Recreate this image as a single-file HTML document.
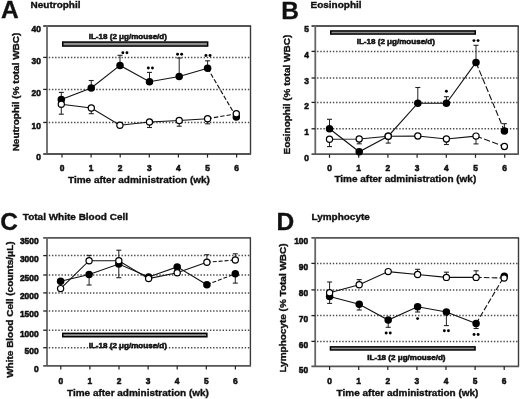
<!DOCTYPE html>
<html><head><meta charset="utf-8"><style>
html,body{margin:0;padding:0;background:#fff;}
body{width:520px;height:399px;overflow:hidden;}
svg{display:block;filter:blur(0.3px);}
text{font-family:"Liberation Sans", sans-serif;font-weight:bold;fill:#111;}
.t8{font-size:8.4px;stroke:#111;stroke-width:0.55px;}
.t8i{font-size:8.05px;stroke:#111;stroke-width:0.55px;}
.t10{font-size:10px;stroke:#111;stroke-width:0.38px;}
.t24{font-size:24.5px;stroke:#111;stroke-width:0.3px;}
</style></head><body>
<svg width="520" height="399" viewBox="0 0 520 399">
<rect width="520" height="399" fill="#fff"/>
<line x1="48.8" y1="57.4" x2="250.5" y2="57.4" stroke="#4a4a4a" stroke-width="1.5" stroke-dasharray="1.4 1.76"/>
<line x1="48.8" y1="89.4" x2="250.5" y2="89.4" stroke="#4a4a4a" stroke-width="1.5" stroke-dasharray="1.4 1.76"/>
<line x1="48.8" y1="122.45" x2="250.5" y2="122.45" stroke="#4a4a4a" stroke-width="1.5" stroke-dasharray="1.4 1.76"/>
<line x1="43.2" y1="26" x2="251.1" y2="26" stroke="#555" stroke-width="1.8"/>
<line x1="250.5" y1="26" x2="250.5" y2="154" stroke="#3a3a3a" stroke-width="1.4"/>
<line x1="47" y1="25.1" x2="47" y2="154" stroke="#666" stroke-width="1.8"/>
<line x1="43.2" y1="154" x2="251.1" y2="154" stroke="#555" stroke-width="1.8"/>
<text x="40.8" y="32.3" text-anchor="end" class="t8">40</text>
<line x1="43.2" y1="57.4" x2="47" y2="57.4" stroke="#222" stroke-width="1.3"/>
<text x="40.8" y="63.7" text-anchor="end" class="t8">30</text>
<line x1="43.2" y1="89.4" x2="47" y2="89.4" stroke="#222" stroke-width="1.3"/>
<text x="40.8" y="95.7" text-anchor="end" class="t8">20</text>
<line x1="43.2" y1="122.45" x2="47" y2="122.45" stroke="#222" stroke-width="1.3"/>
<text x="40.8" y="128.75" text-anchor="end" class="t8">10</text>
<text x="40.8" y="160.3" text-anchor="end" class="t8">0</text>
<line x1="62" y1="154" x2="62" y2="157.6" stroke="#222" stroke-width="1.2"/>
<text x="62" y="170.6" text-anchor="middle" class="t8">0</text>
<line x1="91.1" y1="154" x2="91.1" y2="157.6" stroke="#222" stroke-width="1.2"/>
<text x="91.1" y="170.6" text-anchor="middle" class="t8">1</text>
<line x1="120.2" y1="154" x2="120.2" y2="157.6" stroke="#222" stroke-width="1.2"/>
<text x="120.2" y="170.6" text-anchor="middle" class="t8">2</text>
<line x1="149.3" y1="154" x2="149.3" y2="157.6" stroke="#222" stroke-width="1.2"/>
<text x="149.3" y="170.6" text-anchor="middle" class="t8">3</text>
<line x1="178.4" y1="154" x2="178.4" y2="157.6" stroke="#222" stroke-width="1.2"/>
<text x="178.4" y="170.6" text-anchor="middle" class="t8">4</text>
<line x1="207.5" y1="154" x2="207.5" y2="157.6" stroke="#222" stroke-width="1.2"/>
<text x="207.5" y="170.6" text-anchor="middle" class="t8">5</text>
<line x1="236.6" y1="154" x2="236.6" y2="157.6" stroke="#222" stroke-width="1.2"/>
<text x="236.6" y="170.6" text-anchor="middle" class="t8">6</text>
<text transform="translate(68 182.6) scale(1 0.92)" class="t10">Time after administration (wk)</text>
<text transform="translate(18.8 92) rotate(-90) scale(1 0.92)" text-anchor="middle" class="t10">Neutrophil (% total WBC)</text>
<text x="1" y="18.2" class="t24">A</text>
<text transform="translate(30.6 7.6) scale(1 0.92)" class="t10">Neutrophil</text>
<rect x="62.75" y="42.05" width="144.9" height="4" fill="#8c8c8c" stroke="#000" stroke-width="1.5"/>
<text x="88.7" y="39.4" class="t8i">IL-18 (2 μg/mouse/d)</text>
<path d="M61.3 99.4 L91.25 88 L120 65.4 L149.5 81.7 L179.2 76.5 L207.6 68.3" fill="none" stroke="#111" stroke-width="1.1"/>
<line x1="207.6" y1="68.3" x2="236.3" y2="117" stroke="#111" stroke-width="1.1" stroke-dasharray="4.4 2"/>
<line x1="61.3" y1="99.4" x2="61.3" y2="92.4" stroke="#222" stroke-width="1"/>
<line x1="58.8" y1="92.4" x2="63.8" y2="92.4" stroke="#222" stroke-width="1.1"/>
<line x1="91.25" y1="88" x2="91.25" y2="80.5" stroke="#222" stroke-width="1"/>
<line x1="88.75" y1="80.5" x2="93.75" y2="80.5" stroke="#222" stroke-width="1.1"/>
<line x1="120" y1="65.4" x2="120" y2="55.3" stroke="#222" stroke-width="1"/>
<line x1="117.5" y1="55.3" x2="122.5" y2="55.3" stroke="#222" stroke-width="1.1"/>
<line x1="149.5" y1="81.7" x2="149.5" y2="72.4" stroke="#222" stroke-width="1"/>
<line x1="147" y1="72.4" x2="152" y2="72.4" stroke="#222" stroke-width="1.1"/>
<line x1="179.2" y1="76.5" x2="179.2" y2="58" stroke="#222" stroke-width="1"/>
<line x1="176.7" y1="58" x2="181.7" y2="58" stroke="#222" stroke-width="1.1"/>
<line x1="207.6" y1="68.3" x2="207.6" y2="60.8" stroke="#222" stroke-width="1"/>
<line x1="205.1" y1="60.8" x2="210.1" y2="60.8" stroke="#222" stroke-width="1.1"/>
<circle cx="61.3" cy="99.4" r="3.75" fill="#000"/>
<circle cx="91.25" cy="88" r="3.75" fill="#000"/>
<circle cx="120" cy="65.4" r="3.75" fill="#000"/>
<circle cx="149.5" cy="81.7" r="3.75" fill="#000"/>
<circle cx="179.2" cy="76.5" r="3.75" fill="#000"/>
<circle cx="207.6" cy="68.3" r="3.75" fill="#000"/>
<circle cx="236.3" cy="117" r="3.75" fill="#000"/>
<path d="M61.3 104.3 L91.3 108 L119.9 125.3 L149.5 122 L179.2 120.5 L207.6 118.7" fill="none" stroke="#111" stroke-width="1.1"/>
<line x1="207.6" y1="118.7" x2="236.3" y2="113.8" stroke="#111" stroke-width="1.1" stroke-dasharray="4.4 2"/>
<line x1="61.3" y1="104.3" x2="61.3" y2="114.2" stroke="#222" stroke-width="1"/>
<line x1="58.8" y1="114.2" x2="63.8" y2="114.2" stroke="#222" stroke-width="1.1"/>
<line x1="91.3" y1="108" x2="91.3" y2="113.7" stroke="#222" stroke-width="1"/>
<line x1="88.8" y1="113.7" x2="93.8" y2="113.7" stroke="#222" stroke-width="1.1"/>
<line x1="149.5" y1="122" x2="149.5" y2="127.5" stroke="#222" stroke-width="1"/>
<line x1="147" y1="127.5" x2="152" y2="127.5" stroke="#222" stroke-width="1.1"/>
<line x1="179.2" y1="120.5" x2="179.2" y2="126.2" stroke="#222" stroke-width="1"/>
<line x1="176.7" y1="126.2" x2="181.7" y2="126.2" stroke="#222" stroke-width="1.1"/>
<line x1="207.6" y1="118.7" x2="207.6" y2="123.8" stroke="#222" stroke-width="1"/>
<line x1="205.1" y1="123.8" x2="210.1" y2="123.8" stroke="#222" stroke-width="1.1"/>
<circle cx="61.3" cy="104.3" r="3.1" fill="#fff" stroke="#000" stroke-width="1.2"/>
<circle cx="91.3" cy="108" r="3.1" fill="#fff" stroke="#000" stroke-width="1.2"/>
<circle cx="119.9" cy="125.3" r="3.1" fill="#fff" stroke="#000" stroke-width="1.2"/>
<circle cx="149.5" cy="122" r="3.1" fill="#fff" stroke="#000" stroke-width="1.2"/>
<circle cx="179.2" cy="120.5" r="3.1" fill="#fff" stroke="#000" stroke-width="1.2"/>
<circle cx="207.6" cy="118.7" r="3.1" fill="#fff" stroke="#000" stroke-width="1.2"/>
<circle cx="236.3" cy="113.8" r="3.1" fill="#fff" stroke="#000" stroke-width="1.2"/>
<circle cx="122.85" cy="52.7" r="1.45" fill="#000"/>
<circle cx="126.95" cy="52.7" r="1.45" fill="#000"/>
<circle cx="148.35" cy="68" r="1.45" fill="#000"/>
<circle cx="152.45" cy="68" r="1.45" fill="#000"/>
<circle cx="177.55" cy="54.2" r="1.45" fill="#000"/>
<circle cx="181.65" cy="54.2" r="1.45" fill="#000"/>
<circle cx="205.95" cy="55.5" r="1.45" fill="#000"/>
<circle cx="210.05" cy="55.5" r="1.45" fill="#000"/>
<line x1="317.1" y1="51.4" x2="518.2" y2="51.4" stroke="#4a4a4a" stroke-width="1.5" stroke-dasharray="1.4 1.76"/>
<line x1="317.1" y1="78" x2="518.2" y2="78" stroke="#4a4a4a" stroke-width="1.5" stroke-dasharray="1.4 1.76"/>
<line x1="317.1" y1="102.4" x2="518.2" y2="102.4" stroke="#4a4a4a" stroke-width="1.5" stroke-dasharray="1.4 1.76"/>
<line x1="317.1" y1="128.8" x2="518.2" y2="128.8" stroke="#4a4a4a" stroke-width="1.5" stroke-dasharray="1.4 1.76"/>
<line x1="311.5" y1="26" x2="518.8" y2="26" stroke="#555" stroke-width="1.8"/>
<line x1="518.2" y1="26" x2="518.2" y2="154.2" stroke="#3a3a3a" stroke-width="1.4"/>
<line x1="315.3" y1="25.1" x2="315.3" y2="154.2" stroke="#666" stroke-width="1.8"/>
<line x1="311.5" y1="154.2" x2="518.8" y2="154.2" stroke="#555" stroke-width="1.8"/>
<text x="308.8" y="32.3" text-anchor="end" class="t8">5</text>
<line x1="311.5" y1="51.4" x2="315.3" y2="51.4" stroke="#222" stroke-width="1.3"/>
<text x="308.8" y="57.7" text-anchor="end" class="t8">4</text>
<line x1="311.5" y1="78" x2="315.3" y2="78" stroke="#222" stroke-width="1.3"/>
<text x="308.8" y="84.3" text-anchor="end" class="t8">3</text>
<line x1="311.5" y1="102.4" x2="315.3" y2="102.4" stroke="#222" stroke-width="1.3"/>
<text x="308.8" y="108.7" text-anchor="end" class="t8">2</text>
<line x1="311.5" y1="128.8" x2="315.3" y2="128.8" stroke="#222" stroke-width="1.3"/>
<text x="308.8" y="135.1" text-anchor="end" class="t8">1</text>
<text x="308.8" y="160.5" text-anchor="end" class="t8">0</text>
<line x1="329.5" y1="154.2" x2="329.5" y2="157.8" stroke="#222" stroke-width="1.2"/>
<text x="329.5" y="171.2" text-anchor="middle" class="t8">0</text>
<line x1="358.7" y1="154.2" x2="358.7" y2="157.8" stroke="#222" stroke-width="1.2"/>
<text x="358.7" y="171.2" text-anchor="middle" class="t8">1</text>
<line x1="387.9" y1="154.2" x2="387.9" y2="157.8" stroke="#222" stroke-width="1.2"/>
<text x="387.9" y="171.2" text-anchor="middle" class="t8">2</text>
<line x1="417.1" y1="154.2" x2="417.1" y2="157.8" stroke="#222" stroke-width="1.2"/>
<text x="417.1" y="171.2" text-anchor="middle" class="t8">3</text>
<line x1="446.3" y1="154.2" x2="446.3" y2="157.8" stroke="#222" stroke-width="1.2"/>
<text x="446.3" y="171.2" text-anchor="middle" class="t8">4</text>
<line x1="475.5" y1="154.2" x2="475.5" y2="157.8" stroke="#222" stroke-width="1.2"/>
<text x="475.5" y="171.2" text-anchor="middle" class="t8">5</text>
<line x1="504.7" y1="154.2" x2="504.7" y2="157.8" stroke="#222" stroke-width="1.2"/>
<text x="504.7" y="171.2" text-anchor="middle" class="t8">6</text>
<text transform="translate(334.4 182.3) scale(1 0.92)" class="t10">Time after administration (wk)</text>
<text transform="translate(289.8 94.6) rotate(-90) scale(1 0.92)" text-anchor="middle" class="t10">Eosinophil (% total WBC)</text>
<text x="281.2" y="18.5" class="t24">B</text>
<text transform="translate(310.5 7.7) scale(1 0.92)" class="t10">Eosinophil</text>
<rect x="330.75" y="30.95" width="144.5" height="3.1" fill="#8c8c8c" stroke="#000" stroke-width="1.5"/>
<text x="356.7" y="44.3" class="t8i">IL-18 (2 μg/mouse/d)</text>
<path d="M329.5 128.8 L359.2 151.8 L388.2 136.2 L417.8 103.2 L446.4 103.2 L476 62.4" fill="none" stroke="#111" stroke-width="1.1"/>
<line x1="476" y1="62.4" x2="504.4" y2="130.9" stroke="#111" stroke-width="1.1" stroke-dasharray="6.3 2.3"/>
<line x1="329.5" y1="128.8" x2="329.5" y2="119.3" stroke="#222" stroke-width="1"/>
<line x1="327" y1="119.3" x2="332" y2="119.3" stroke="#222" stroke-width="1.1"/>
<line x1="417.8" y1="103.2" x2="417.8" y2="87.5" stroke="#222" stroke-width="1"/>
<line x1="415.3" y1="87.5" x2="420.3" y2="87.5" stroke="#222" stroke-width="1.1"/>
<line x1="446.4" y1="103.2" x2="446.4" y2="96.7" stroke="#222" stroke-width="1"/>
<line x1="443.9" y1="96.7" x2="448.9" y2="96.7" stroke="#222" stroke-width="1.1"/>
<line x1="476" y1="62.4" x2="476" y2="45.3" stroke="#222" stroke-width="1"/>
<line x1="473.5" y1="45.3" x2="478.5" y2="45.3" stroke="#222" stroke-width="1.1"/>
<line x1="504.4" y1="130.9" x2="504.4" y2="123.7" stroke="#222" stroke-width="1"/>
<line x1="501.9" y1="123.7" x2="506.9" y2="123.7" stroke="#222" stroke-width="1.1"/>
<circle cx="329.5" cy="128.8" r="3.75" fill="#000"/>
<circle cx="359.2" cy="151.8" r="3.75" fill="#000"/>
<circle cx="388.2" cy="136.2" r="3.75" fill="#000"/>
<circle cx="417.8" cy="103.2" r="3.75" fill="#000"/>
<circle cx="446.4" cy="103.2" r="3.75" fill="#000"/>
<circle cx="476" cy="62.4" r="3.75" fill="#000"/>
<circle cx="504.4" cy="130.9" r="3.75" fill="#000"/>
<path d="M329.5 139.2 L359.2 139 L388.2 136.2 L417.8 136 L446.4 139 L476 136.1" fill="none" stroke="#111" stroke-width="1.1"/>
<line x1="476" y1="136.1" x2="504.4" y2="146.5" stroke="#111" stroke-width="1.1" stroke-dasharray="6.3 2.3"/>
<line x1="329.5" y1="139.2" x2="329.5" y2="146.6" stroke="#222" stroke-width="1"/>
<line x1="327" y1="146.6" x2="332" y2="146.6" stroke="#222" stroke-width="1.1"/>
<line x1="359.2" y1="139" x2="359.2" y2="143.8" stroke="#222" stroke-width="1"/>
<line x1="356.7" y1="143.8" x2="361.7" y2="143.8" stroke="#222" stroke-width="1.1"/>
<line x1="388.2" y1="136.2" x2="388.2" y2="143.1" stroke="#222" stroke-width="1"/>
<line x1="385.7" y1="143.1" x2="390.7" y2="143.1" stroke="#222" stroke-width="1.1"/>
<line x1="446.4" y1="139" x2="446.4" y2="144.5" stroke="#222" stroke-width="1"/>
<line x1="443.9" y1="144.5" x2="448.9" y2="144.5" stroke="#222" stroke-width="1.1"/>
<line x1="476" y1="136.1" x2="476" y2="143.9" stroke="#222" stroke-width="1"/>
<line x1="473.5" y1="143.9" x2="478.5" y2="143.9" stroke="#222" stroke-width="1.1"/>
<circle cx="329.5" cy="139.2" r="3.1" fill="#fff" stroke="#000" stroke-width="1.2"/>
<circle cx="359.2" cy="139" r="3.1" fill="#fff" stroke="#000" stroke-width="1.2"/>
<circle cx="388.2" cy="136.2" r="3.1" fill="#fff" stroke="#000" stroke-width="1.2"/>
<circle cx="417.8" cy="136" r="3.1" fill="#fff" stroke="#000" stroke-width="1.2"/>
<circle cx="446.4" cy="139" r="3.1" fill="#fff" stroke="#000" stroke-width="1.2"/>
<circle cx="476" cy="136.1" r="3.1" fill="#fff" stroke="#000" stroke-width="1.2"/>
<circle cx="504.4" cy="146.5" r="3.1" fill="#fff" stroke="#000" stroke-width="1.2"/>
<circle cx="446.4" cy="91.2" r="1.45" fill="#000"/>
<circle cx="473.95" cy="40.6" r="1.45" fill="#000"/>
<circle cx="478.05" cy="40.6" r="1.45" fill="#000"/>
<line x1="48.8" y1="255.6" x2="250.4" y2="255.6" stroke="#4a4a4a" stroke-width="1.5" stroke-dasharray="1.4 1.76"/>
<line x1="48.8" y1="275" x2="250.4" y2="275" stroke="#4a4a4a" stroke-width="1.5" stroke-dasharray="1.4 1.76"/>
<line x1="48.8" y1="292.9" x2="250.4" y2="292.9" stroke="#4a4a4a" stroke-width="1.5" stroke-dasharray="1.4 1.76"/>
<line x1="48.8" y1="311" x2="250.4" y2="311" stroke="#4a4a4a" stroke-width="1.5" stroke-dasharray="1.4 1.76"/>
<line x1="48.8" y1="330.2" x2="250.4" y2="330.2" stroke="#4a4a4a" stroke-width="1.5" stroke-dasharray="1.4 1.76"/>
<line x1="48.8" y1="347.7" x2="250.4" y2="347.7" stroke="#4a4a4a" stroke-width="1.5" stroke-dasharray="1.4 1.76"/>
<line x1="43.2" y1="237.8" x2="251" y2="237.8" stroke="#555" stroke-width="1.8"/>
<line x1="250.4" y1="237.8" x2="250.4" y2="365.9" stroke="#3a3a3a" stroke-width="1.4"/>
<line x1="47" y1="236.9" x2="47" y2="365.9" stroke="#666" stroke-width="1.8"/>
<line x1="43.2" y1="365.9" x2="251" y2="365.9" stroke="#555" stroke-width="1.8"/>
<text x="38.6" y="244.1" text-anchor="end" class="t8">3500</text>
<line x1="43.2" y1="255.6" x2="47" y2="255.6" stroke="#222" stroke-width="1.3"/>
<text x="38.6" y="261.9" text-anchor="end" class="t8">3000</text>
<line x1="43.2" y1="275" x2="47" y2="275" stroke="#222" stroke-width="1.3"/>
<text x="38.6" y="281.3" text-anchor="end" class="t8">2500</text>
<line x1="43.2" y1="292.9" x2="47" y2="292.9" stroke="#222" stroke-width="1.3"/>
<text x="38.6" y="299.2" text-anchor="end" class="t8">2000</text>
<line x1="43.2" y1="311" x2="47" y2="311" stroke="#222" stroke-width="1.3"/>
<text x="38.6" y="317.3" text-anchor="end" class="t8">1500</text>
<line x1="43.2" y1="330.2" x2="47" y2="330.2" stroke="#222" stroke-width="1.3"/>
<text x="38.6" y="336.5" text-anchor="end" class="t8">1000</text>
<line x1="43.2" y1="347.7" x2="47" y2="347.7" stroke="#222" stroke-width="1.3"/>
<text x="38.6" y="354" text-anchor="end" class="t8">500</text>
<text x="38.6" y="372.2" text-anchor="end" class="t8">0</text>
<line x1="60.8" y1="365.9" x2="60.8" y2="369.5" stroke="#222" stroke-width="1.2"/>
<text x="60.8" y="383.6" text-anchor="middle" class="t8">0</text>
<line x1="89.9" y1="365.9" x2="89.9" y2="369.5" stroke="#222" stroke-width="1.2"/>
<text x="89.9" y="383.6" text-anchor="middle" class="t8">1</text>
<line x1="119" y1="365.9" x2="119" y2="369.5" stroke="#222" stroke-width="1.2"/>
<text x="119" y="383.6" text-anchor="middle" class="t8">2</text>
<line x1="148.1" y1="365.9" x2="148.1" y2="369.5" stroke="#222" stroke-width="1.2"/>
<text x="148.1" y="383.6" text-anchor="middle" class="t8">3</text>
<line x1="177.2" y1="365.9" x2="177.2" y2="369.5" stroke="#222" stroke-width="1.2"/>
<text x="177.2" y="383.6" text-anchor="middle" class="t8">4</text>
<line x1="206.3" y1="365.9" x2="206.3" y2="369.5" stroke="#222" stroke-width="1.2"/>
<text x="206.3" y="383.6" text-anchor="middle" class="t8">5</text>
<line x1="235.4" y1="365.9" x2="235.4" y2="369.5" stroke="#222" stroke-width="1.2"/>
<text x="235.4" y="383.6" text-anchor="middle" class="t8">6</text>
<text transform="translate(67 395.9) scale(1 0.92)" class="t10">Time after administration (wk)</text>
<text transform="translate(13 309.6) rotate(-90) scale(1 0.92)" text-anchor="middle" class="t10">White Blood Cell (counts/μL)</text>
<text x="0.2" y="230.2" class="t24">C</text>
<text transform="translate(22.8 219.5) scale(1 0.92)" class="t10">Total White Blood Cell</text>
<rect x="62.75" y="333.35" width="144.1" height="3.4" fill="#8c8c8c" stroke="#000" stroke-width="1.5"/>
<text x="88.7" y="347.6" class="t8i">IL-18 (2 μg/mouse/d)</text>
<path d="M60.6 281.2 L89.1 274.5 L118.8 264.1 L148.6 276.9 L177.2 266.9 L206.9 284.7" fill="none" stroke="#111" stroke-width="1.1"/>
<line x1="206.9" y1="284.7" x2="235.3" y2="273.8" stroke="#111" stroke-width="1.1" stroke-dasharray="4 1.9"/>
<line x1="89.1" y1="274.5" x2="89.1" y2="285" stroke="#222" stroke-width="1"/>
<line x1="86.6" y1="285" x2="91.6" y2="285" stroke="#222" stroke-width="1.1"/>
<line x1="118.8" y1="264.1" x2="118.8" y2="277.7" stroke="#222" stroke-width="1"/>
<line x1="116.3" y1="277.7" x2="121.3" y2="277.7" stroke="#222" stroke-width="1.1"/>
<line x1="235.3" y1="273.8" x2="235.3" y2="283.1" stroke="#222" stroke-width="1"/>
<line x1="232.8" y1="283.1" x2="237.8" y2="283.1" stroke="#222" stroke-width="1.1"/>
<circle cx="60.6" cy="281.2" r="3.75" fill="#000"/>
<circle cx="89.1" cy="274.5" r="3.75" fill="#000"/>
<circle cx="118.8" cy="264.1" r="3.75" fill="#000"/>
<circle cx="148.6" cy="276.9" r="3.75" fill="#000"/>
<circle cx="177.2" cy="266.9" r="3.75" fill="#000"/>
<circle cx="206.9" cy="284.7" r="3.75" fill="#000"/>
<circle cx="235.3" cy="273.8" r="3.75" fill="#000"/>
<path d="M60.6 288.6 L89.1 260.7 L118.8 260.8 L148.6 278.6 L177.2 272.7 L206.9 262.3" fill="none" stroke="#111" stroke-width="1.1"/>
<line x1="206.9" y1="262.3" x2="235.3" y2="260" stroke="#111" stroke-width="1.1" stroke-dasharray="4 1.9"/>
<line x1="89.1" y1="260.7" x2="89.1" y2="255.4" stroke="#222" stroke-width="1"/>
<line x1="86.6" y1="255.4" x2="91.6" y2="255.4" stroke="#222" stroke-width="1.1"/>
<line x1="118.8" y1="260.8" x2="118.8" y2="250.2" stroke="#222" stroke-width="1"/>
<line x1="116.3" y1="250.2" x2="121.3" y2="250.2" stroke="#222" stroke-width="1.1"/>
<line x1="206.9" y1="262.3" x2="206.9" y2="254.7" stroke="#222" stroke-width="1"/>
<line x1="204.4" y1="254.7" x2="209.4" y2="254.7" stroke="#222" stroke-width="1.1"/>
<line x1="235.3" y1="260" x2="235.3" y2="253.8" stroke="#222" stroke-width="1"/>
<line x1="232.8" y1="253.8" x2="237.8" y2="253.8" stroke="#222" stroke-width="1.1"/>
<circle cx="60.6" cy="288.6" r="3.1" fill="#fff" stroke="#000" stroke-width="1.2"/>
<circle cx="89.1" cy="260.7" r="3.1" fill="#fff" stroke="#000" stroke-width="1.2"/>
<circle cx="118.8" cy="260.8" r="3.1" fill="#fff" stroke="#000" stroke-width="1.2"/>
<circle cx="148.6" cy="278.6" r="3.1" fill="#fff" stroke="#000" stroke-width="1.2"/>
<circle cx="177.2" cy="272.7" r="3.1" fill="#fff" stroke="#000" stroke-width="1.2"/>
<circle cx="206.9" cy="262.3" r="3.1" fill="#fff" stroke="#000" stroke-width="1.2"/>
<circle cx="235.3" cy="260" r="3.1" fill="#fff" stroke="#000" stroke-width="1.2"/>
<line x1="317" y1="263.4" x2="518.5" y2="263.4" stroke="#4a4a4a" stroke-width="1.5" stroke-dasharray="1.4 1.76"/>
<line x1="317" y1="289.9" x2="518.5" y2="289.9" stroke="#4a4a4a" stroke-width="1.5" stroke-dasharray="1.4 1.76"/>
<line x1="317" y1="315.6" x2="518.5" y2="315.6" stroke="#4a4a4a" stroke-width="1.5" stroke-dasharray="1.4 1.76"/>
<line x1="317" y1="341.4" x2="518.5" y2="341.4" stroke="#4a4a4a" stroke-width="1.5" stroke-dasharray="1.4 1.76"/>
<line x1="311.4" y1="237.9" x2="519.1" y2="237.9" stroke="#555" stroke-width="1.8"/>
<line x1="518.5" y1="237.9" x2="518.5" y2="366.3" stroke="#3a3a3a" stroke-width="1.4"/>
<line x1="315.2" y1="237" x2="315.2" y2="366.3" stroke="#666" stroke-width="1.8"/>
<line x1="311.4" y1="366.3" x2="519.1" y2="366.3" stroke="#555" stroke-width="1.8"/>
<text x="308.2" y="244.2" text-anchor="end" class="t8">100</text>
<line x1="311.4" y1="263.4" x2="315.2" y2="263.4" stroke="#222" stroke-width="1.3"/>
<text x="308.2" y="269.7" text-anchor="end" class="t8">90</text>
<line x1="311.4" y1="289.9" x2="315.2" y2="289.9" stroke="#222" stroke-width="1.3"/>
<text x="308.2" y="296.2" text-anchor="end" class="t8">80</text>
<line x1="311.4" y1="315.6" x2="315.2" y2="315.6" stroke="#222" stroke-width="1.3"/>
<text x="308.2" y="321.9" text-anchor="end" class="t8">70</text>
<line x1="311.4" y1="341.4" x2="315.2" y2="341.4" stroke="#222" stroke-width="1.3"/>
<text x="308.2" y="347.7" text-anchor="end" class="t8">60</text>
<text x="308.2" y="372.6" text-anchor="end" class="t8">50</text>
<line x1="329.6" y1="366.3" x2="329.6" y2="369.9" stroke="#222" stroke-width="1.2"/>
<text x="329.6" y="384.3" text-anchor="middle" class="t8">0</text>
<line x1="358.7" y1="366.3" x2="358.7" y2="369.9" stroke="#222" stroke-width="1.2"/>
<text x="358.7" y="384.3" text-anchor="middle" class="t8">1</text>
<line x1="387.8" y1="366.3" x2="387.8" y2="369.9" stroke="#222" stroke-width="1.2"/>
<text x="387.8" y="384.3" text-anchor="middle" class="t8">2</text>
<line x1="416.9" y1="366.3" x2="416.9" y2="369.9" stroke="#222" stroke-width="1.2"/>
<text x="416.9" y="384.3" text-anchor="middle" class="t8">3</text>
<line x1="446" y1="366.3" x2="446" y2="369.9" stroke="#222" stroke-width="1.2"/>
<text x="446" y="384.3" text-anchor="middle" class="t8">4</text>
<line x1="475.1" y1="366.3" x2="475.1" y2="369.9" stroke="#222" stroke-width="1.2"/>
<text x="475.1" y="384.3" text-anchor="middle" class="t8">5</text>
<line x1="504.2" y1="366.3" x2="504.2" y2="369.9" stroke="#222" stroke-width="1.2"/>
<text x="504.2" y="384.3" text-anchor="middle" class="t8">6</text>
<text transform="translate(336.6 396.1) scale(1 0.92)" class="t10">Time after administration (wk)</text>
<text transform="translate(286.2 308) rotate(-90) scale(1 0.92)" text-anchor="middle" class="t10">Lymphocyte (% Total WBC)</text>
<text x="276.4" y="230.4" class="t24">D</text>
<text transform="translate(311.4 220.1) scale(1 0.92)" class="t10">Lymphocyte</text>
<rect x="330.45" y="346.85" width="144.6" height="3.1" fill="#8c8c8c" stroke="#000" stroke-width="1.5"/>
<text x="367.3" y="360.4" class="t8i">IL-18 (2 μg/mouse/d)</text>
<path d="M329.6 296.5 L359.2 304.3 L388.2 320.1 L417.6 306.8 L446.4 312 L476.1 323.5" fill="none" stroke="#111" stroke-width="1.1"/>
<line x1="476.1" y1="323.5" x2="504.3" y2="276.2" stroke="#111" stroke-width="1.1" stroke-dasharray="5.6 2.2"/>
<line x1="329.6" y1="296.5" x2="329.6" y2="303.4" stroke="#222" stroke-width="1"/>
<line x1="327.1" y1="303.4" x2="332.1" y2="303.4" stroke="#222" stroke-width="1.1"/>
<line x1="359.2" y1="304.3" x2="359.2" y2="310" stroke="#222" stroke-width="1"/>
<line x1="356.7" y1="310" x2="361.7" y2="310" stroke="#222" stroke-width="1.1"/>
<line x1="388.2" y1="320.1" x2="388.2" y2="327.3" stroke="#222" stroke-width="1"/>
<line x1="385.7" y1="327.3" x2="390.7" y2="327.3" stroke="#222" stroke-width="1.1"/>
<line x1="417.6" y1="306.8" x2="417.6" y2="312" stroke="#222" stroke-width="1"/>
<line x1="415.1" y1="312" x2="420.1" y2="312" stroke="#222" stroke-width="1.1"/>
<line x1="446.4" y1="312" x2="446.4" y2="325.6" stroke="#222" stroke-width="1"/>
<line x1="443.9" y1="325.6" x2="448.9" y2="325.6" stroke="#222" stroke-width="1.1"/>
<line x1="476.1" y1="323.5" x2="476.1" y2="328.5" stroke="#222" stroke-width="1"/>
<line x1="473.6" y1="328.5" x2="478.6" y2="328.5" stroke="#222" stroke-width="1.1"/>
<circle cx="329.6" cy="296.5" r="3.75" fill="#000"/>
<circle cx="359.2" cy="304.3" r="3.75" fill="#000"/>
<circle cx="388.2" cy="320.1" r="3.75" fill="#000"/>
<circle cx="417.6" cy="306.8" r="3.75" fill="#000"/>
<circle cx="446.4" cy="312" r="3.75" fill="#000"/>
<circle cx="476.1" cy="323.5" r="3.75" fill="#000"/>
<circle cx="504.3" cy="276.2" r="3.75" fill="#000"/>
<path d="M329.6 292.8 L359.2 284.7 L388.2 271.6 L417.6 274.5 L446.4 277.4 L476.1 277.4" fill="none" stroke="#111" stroke-width="1.1"/>
<line x1="476.1" y1="277.4" x2="504.1" y2="278" stroke="#111" stroke-width="1.1" stroke-dasharray="5.6 2.2"/>
<line x1="329.6" y1="292.8" x2="329.6" y2="282" stroke="#222" stroke-width="1"/>
<line x1="327.1" y1="282" x2="332.1" y2="282" stroke="#222" stroke-width="1.1"/>
<line x1="359.2" y1="284.7" x2="359.2" y2="279.6" stroke="#222" stroke-width="1"/>
<line x1="356.7" y1="279.6" x2="361.7" y2="279.6" stroke="#222" stroke-width="1.1"/>
<line x1="417.6" y1="274.5" x2="417.6" y2="269.3" stroke="#222" stroke-width="1"/>
<line x1="415.1" y1="269.3" x2="420.1" y2="269.3" stroke="#222" stroke-width="1.1"/>
<line x1="446.4" y1="277.4" x2="446.4" y2="272.2" stroke="#222" stroke-width="1"/>
<line x1="443.9" y1="272.2" x2="448.9" y2="272.2" stroke="#222" stroke-width="1.1"/>
<line x1="476.1" y1="277.4" x2="476.1" y2="270.8" stroke="#222" stroke-width="1"/>
<line x1="473.6" y1="270.8" x2="478.6" y2="270.8" stroke="#222" stroke-width="1.1"/>
<circle cx="329.6" cy="292.8" r="3.1" fill="#fff" stroke="#000" stroke-width="1.2"/>
<circle cx="359.2" cy="284.7" r="3.1" fill="#fff" stroke="#000" stroke-width="1.2"/>
<circle cx="388.2" cy="271.6" r="3.1" fill="#fff" stroke="#000" stroke-width="1.2"/>
<circle cx="417.6" cy="274.5" r="3.1" fill="#fff" stroke="#000" stroke-width="1.2"/>
<circle cx="446.4" cy="277.4" r="3.1" fill="#fff" stroke="#000" stroke-width="1.2"/>
<circle cx="476.1" cy="277.4" r="3.1" fill="#fff" stroke="#000" stroke-width="1.2"/>
<circle cx="504.1" cy="278" r="3.1" fill="#fff" stroke="#000" stroke-width="1.2"/>
<circle cx="386.15" cy="333" r="1.45" fill="#000"/>
<circle cx="390.25" cy="333" r="1.45" fill="#000"/>
<circle cx="417.6" cy="318.6" r="1.45" fill="#000"/>
<circle cx="444.35" cy="330.8" r="1.45" fill="#000"/>
<circle cx="448.45" cy="330.8" r="1.45" fill="#000"/>
<circle cx="474.05" cy="334.5" r="1.45" fill="#000"/>
<circle cx="478.15" cy="334.5" r="1.45" fill="#000"/>
</svg>
</body></html>
